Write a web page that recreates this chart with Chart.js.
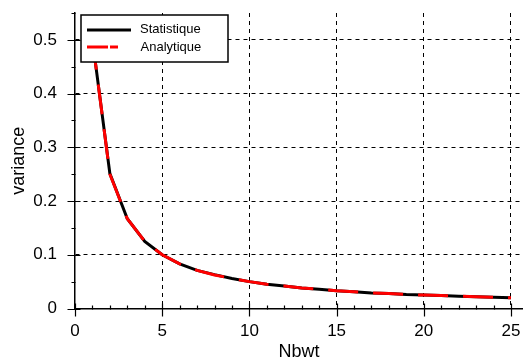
<!DOCTYPE html>
<html>
<head>
<meta charset="utf-8">
<script src="https://cdn.jsdelivr.net/npm/chart.js@4/dist/chart.umd.min.js"></script>
<style>
html,body{margin:0;padding:0;background:#fff;}
#wrap{position:relative;width:523px;height:361px;}
</style>
</head>
<body>
<div id="wrap"><canvas id="c"></canvas></div>
<script>
const nbwt = [1,2,3,4,5,6,7,8,9,10,11,12,13,14,15,16,17,18,19,20,21,22,23,24,25];
const statistique = [0.500,0.251,0.167,0.125,0.100,0.083,0.071,0.063,0.056,0.050,0.045,0.042,0.038,0.036,0.033,0.031,0.029,0.028,0.026,0.025,0.024,0.023,0.022,0.021,0.020];
const analytique  = [0.500,0.250,0.167,0.125,0.100,0.083,0.071,0.0625,0.056,0.050,0.045,0.042,0.038,0.036,0.033,0.031,0.029,0.028,0.026,0.025,0.024,0.023,0.022,0.021,0.020];
const xTicks = [0,5,10,15,20,25];
const yTicks = [0,0.1,0.2,0.3,0.4,0.5];
const seriesNames = ['Statistique','Analytique'];
const xTitle = 'Nbwt';
const yTitle = 'variance';

const FONT = "'Liberation Sans', Arial, sans-serif";

const pts = (ys) => nbwt.map((x,i)=>({x:x,y:ys[i]}));

const extras = {
  id:'extras',
  afterDraw(chart){
    const ctx = chart.ctx;
    const xs = chart.scales.x, ys = chart.scales.y;
    const y0 = Math.round(ys.getPixelForValue(0)) + 0.5;
    const x0 = Math.round(xs.getPixelForValue(0)) + 0.5;
    ctx.save();
    ctx.strokeStyle = '#000';
    ctx.lineWidth = 1.2;
    ctx.beginPath();
    for (let v=0; v<=25; v++){
      const px = Math.round(xs.getPixelForValue(v)) + 0.5;
      if (v % 5 === 0){ ctx.moveTo(px, y0-6); ctx.lineTo(px, y0+7); }
      else { ctx.moveTo(px, y0-4); ctx.lineTo(px, y0); }
    }
    for (let k=0; k<=11; k++){
      const v = k*0.05;
      const py = Math.round(ys.getPixelForValue(v)) + 0.5;
      if (k % 2 === 0){ ctx.moveTo(x0-8, py); ctx.lineTo(x0+5, py); }
      else { ctx.moveTo(x0-4, py); ctx.lineTo(x0, py); }
    }
    ctx.stroke();

    // legend
    const lx = 81, ly = 15, lw = 147, lh = 47;
    ctx.fillStyle = '#fff';
    ctx.fillRect(lx, ly, lw, lh);
    ctx.lineWidth = 1.5;
    ctx.strokeStyle = '#000';
    ctx.strokeRect(lx, ly, lw, lh);
    ctx.lineWidth = 3;
    ctx.beginPath(); ctx.strokeStyle = '#000';
    ctx.moveTo(87, 30); ctx.lineTo(131, 30); ctx.stroke();
    ctx.beginPath(); ctx.strokeStyle = '#ff0000';
    ctx.moveTo(87, 47); ctx.lineTo(108, 47);
    ctx.moveTo(110, 47); ctx.lineTo(118, 47); ctx.stroke();
    ctx.fillStyle = '#000';
    ctx.font = "13px " + FONT;
    ctx.textBaseline = 'middle';
    ctx.textAlign = 'left';
    ctx.fillText(seriesNames[0], 140, 29);
    ctx.fillText(seriesNames[1], 140.5, 47);
    ctx.restore();
  }
};

new Chart(document.getElementById('c'), {
  type:'line',
  data:{
    datasets:[
      {label:seriesNames[0], data:pts(statistique), borderColor:'#000', borderWidth:3, pointRadius:0, tension:0, fill:false, order:2},
      {label:seriesNames[1], data:pts(analytique), borderColor:'#ff0000', borderWidth:3, borderDash:[30,15], pointRadius:0, tension:0, fill:false, order:1}
    ]
  },
  options:{
    responsive:true,
    maintainAspectRatio:false,
    animation:false,
    events:[],
    layout:{padding:{top:13,right:0,left:0,bottom:0}},
    plugins:{legend:{display:false}, tooltip:{enabled:false}},
    scales:{
      x:{
        type:'linear', min:0, max:25.69,
        afterBuildTicks(s){ s.ticks = xTicks.map(v=>({value:v})); },
        afterFit(s){ s.height = 52.5; s.paddingLeft = 0; s.paddingRight = 0; },
        grid:{color:(c)=> (c.tick && c.tick.value===0) ? 'rgba(0,0,0,0)' : '#000', lineWidth:1, drawTicks:false},
        border:{display:true, color:'#000', width:1.5, dash:[4,4]},
        ticks:{color:'#000', font:{family:FONT, size:17}, padding:13, maxRotation:0,
          callback:(v)=>String(v)},
        title:{display:true, text:xTitle, color:'#000', font:{family:FONT, size:18, lineHeight:1}, padding:{top:0,bottom:0}}
      },
      y:{
        type:'linear', min:0, max:0.55,
        afterBuildTicks(s){ s.ticks = yTicks.map(v=>({value:v})); },
        afterFit(s){ s.width = 75; s.paddingTop = 0; s.paddingBottom = 0; },
        grid:{color:(c)=> (c.tick && c.tick.value===0) ? 'rgba(0,0,0,0)' : '#000', lineWidth:1, drawTicks:false},
        border:{display:true, color:'#000', width:1.5, dash:[4,4]},
        ticks:{color:'#000', font:{family:FONT, size:17}, padding:18,
          callback:(v)=> v===0 ? '0' : String(Math.round(v*10)/10)},
        title:{display:true, text:yTitle, color:'#000', font:{family:FONT, size:18, lineHeight:1}, padding:{top:10,bottom:0}}
      }
    }
  },
  plugins:[extras]
});
</script>
</body>
</html>
